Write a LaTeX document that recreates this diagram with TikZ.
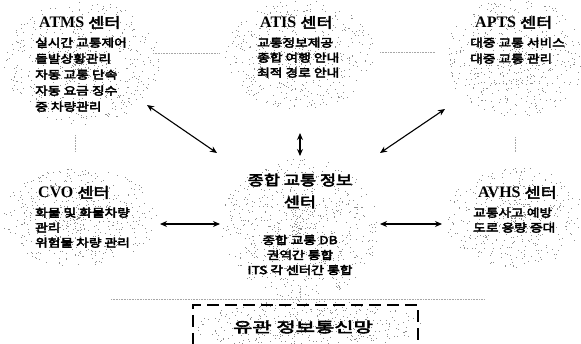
\documentclass[tikz,border=0pt]{standalone}
\usepackage{fontspec}
\newfontfamily\kr[FakeStretch=1.25, FakeBold=4]{Noto Sans CJK KR}
\newfontfamily\krw[FakeStretch=1.5, FakeBold=4]{Noto Sans CJK KR}
\newfontfamily\lat{Liberation Serif}
\usetikzlibrary{arrows.meta}
\newcommand\ttlx[1]{{\lat\bfseries\fontsize{16}{16}\selectfont #1}\hspace{4pt}{\kr\fontsize{14}{16}\selectfont 센터}}
\newcommand\speckblob[5]{%
  \foreach \k in {1,...,#5}{%
    \pgfmathsetmacro\spA{rnd*360}%
    \pgfmathsetmacro\spR{rnd^0.7}%
    \fill[spk] ({#1+#3*\spR*cos(\spA)},{#2+#4*\spR*sin(\spA)}) rectangle ++(0.9,0.9);
  }}
\begin{document}
\begin{tikzpicture}[x=1pt,y=-1pt,
  blk/.style={inner sep=0pt, anchor=north west, align=left, font=\kr\fontsize{11}{16}\selectfont},
  link/.style={line width=1.1pt, {Stealth[length=7pt,width=6pt]}-{Stealth[length=7pt,width=6pt]}},
  faint/.style={gray!70, line width=0.6pt, densely dotted},
  spk/.style={fill=black!45}]
\clip (0,0) rectangle (581,343);
\fill[white] (0,0) rectangle (581,343);
\pgfmathsetseed{7}
% scanned speckle
\speckblob{82}{62}{78}{62}{650}
\speckblob{300}{55}{75}{55}{550}
\speckblob{515}{57}{70}{60}{550}
\speckblob{80}{217}{78}{50}{550}
\speckblob{300}{228}{80}{70}{750}
\speckblob{515}{217}{70}{50}{480}
\speckblob{305}{325}{115}{25}{450}

% faint lines
\draw[faint] (153,53) -- (220,53);
\draw[faint] (380,52) -- (435,52);
\draw[faint] (75,135) -- (75,152);
\draw[faint] (515,137) -- (515,152);
\draw[faint] (111,299) -- (485,299);
\draw[faint] (300,286) -- (300,299);

% blocks
\node[blk] (atms) at (35,16) {\hspace*{4pt}\ttlx{ATMS}\\[3pt]실시간 교통제어\\돌발상황관리\\자동 교통 단속\\자동 요금 징수\\중 차량관리};
\node[blk, font=\kr\fontsize{11}{15}\selectfont] (atis) at (257,16) {\hspace*{3pt}\ttlx{ATIS}\\[4pt]교통정보제공\\종합 여행 안내\\최적 경로 안내};
\node[blk] (apts) at (470,16) {\hspace*{5pt}\ttlx{APTS}\\[3pt]대중 교통 서비스\\대중 교통 관리};
\node[blk, font=\kr\fontsize{11}{15}\selectfont] (cvo) at (35,186) {\hspace*{3pt}\ttlx{CVO}\\[4pt]화물 및 화물차량\\관리\\위험물 차량 관리};
\node[blk, font=\kr\fontsize{11}{15}\selectfont] (avhs) at (473,186) {\hspace*{5pt}\ttlx{AVHS}\\[4pt]교통사고 예방\\도로 용량 증대};
\node[inner sep=0pt, align=center, font=\kr\fontsize{14}{22}\selectfont] (hub) at (300,191) {종합 교통 정보\\센터};
\node[inner sep=0pt, align=center, font=\kr\fontsize{11}{15}\selectfont] (hubdb) at (300,255) {종합 교통 DB\\권역간 통합\\ITS 각 센터간 통합};

% bottom network box
\node[draw, dash pattern=on 12pt off 6pt, line width=1.5pt, minimum width=225pt, minimum height=80pt, anchor=north west, inner sep=0pt] (netbox) at (192,304) {};
\node[font=\krw\fontsize{14}{14}\selectfont, inner sep=0pt] (net) at (303,327) {유관 정보통신망};

% connectors
\coordinate (atmsE) at (147,105); \coordinate (hubNW) at (217,153);
\coordinate (atisS) at (300,133); \coordinate (hubN) at (300,156);
\coordinate (aptsW) at (445,109); \coordinate (hubNE) at (380,153);
\coordinate (cvoE) at (160,224); \coordinate (hubW) at (220,224);
\coordinate (avhsW) at (442,224); \coordinate (hubE) at (380,224);
\draw[link] (atmsE) -- (hubNW);
\draw[link] (atisS) -- (hubN);
\draw[link] (aptsW) -- (hubNE);
\draw[link] (cvoE) -- (hubW);
\draw[link] (avhsW) -- (hubE);
\end{tikzpicture}
\end{document}
